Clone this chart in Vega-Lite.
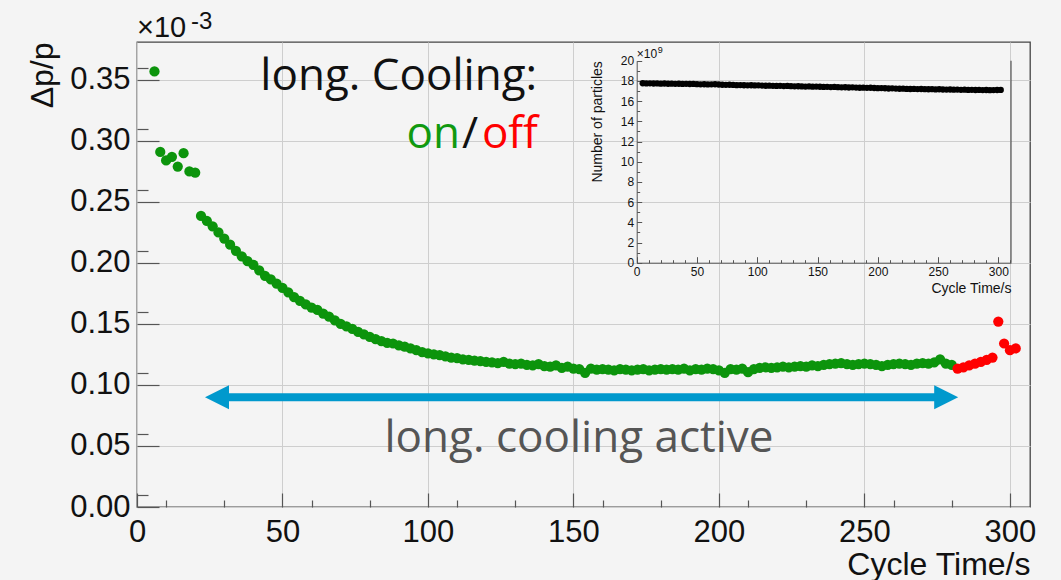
{
  "$schema": "https://vega.github.io/schema/vega-lite/v6.json",
  "width": 893,
  "height": 465,
  "autosize": {"type": "none"},
  "padding": {"left": 137, "top": 42, "right": 31, "bottom": 73},
  "background": "#f4f4f4",
  "config": {
    "view": {"stroke": "#444", "strokeWidth": 1.3, "fill": "#f4f4f4"},
    "axis": {"labelFont": "Liberation Sans", "titleFont": "Liberation Sans", "labelColor": "#111", "titleColor": "#111", "titleFontWeight": "normal"}
  },
  "datasets": {
    "one": [{}],
    "main": [
      {"t":6,"dp":0.357,"cooling":"on"},{"t":8,"dp":0.291,"cooling":"on"},{"t":10,"dp":0.284,"cooling":"on"},{"t":12,"dp":0.287,"cooling":"on"},{"t":14,"dp":0.279,"cooling":"on"},{"t":16,"dp":0.290,"cooling":"on"},{"t":18,"dp":0.2750,"cooling":"on"},{"t":20,"dp":0.2740,"cooling":"on"},
      {"t":22,"dp":0.2385,"cooling":"on"},{"t":24,"dp":0.2345,"cooling":"on"},{"t":26,"dp":0.2300,"cooling":"on"},{"t":28,"dp":0.2250,"cooling":"on"},{"t":30,"dp":0.2200,"cooling":"on"},{"t":32,"dp":0.2150,"cooling":"on"},{"t":34,"dp":0.2100,"cooling":"on"},{"t":36,"dp":0.2055,"cooling":"on"},{"t":38,"dp":0.2015,"cooling":"on"},{"t":40,"dp":0.1985,"cooling":"on"},
      {"t":42,"dp":0.1940,"cooling":"on"},{"t":44,"dp":0.1895,"cooling":"on"},{"t":46,"dp":0.1865,"cooling":"on"},{"t":48,"dp":0.1830,"cooling":"on"},{"t":50,"dp":0.1795,"cooling":"on"},{"t":52,"dp":0.1760,"cooling":"on"},{"t":54,"dp":0.1720,"cooling":"on"},{"t":56,"dp":0.1690,"cooling":"on"},{"t":58,"dp":0.1660,"cooling":"on"},{"t":60,"dp":0.1635,"cooling":"on"},
      {"t":62,"dp":0.1615,"cooling":"on"},{"t":64,"dp":0.1585,"cooling":"on"},{"t":66,"dp":0.1560,"cooling":"on"},{"t":68,"dp":0.1530,"cooling":"on"},{"t":70,"dp":0.1500,"cooling":"on"},{"t":72,"dp":0.1480,"cooling":"on"},{"t":74,"dp":0.1460,"cooling":"on"},{"t":76,"dp":0.1435,"cooling":"on"},{"t":78,"dp":0.1415,"cooling":"on"},{"t":80,"dp":0.1395,"cooling":"on"},
      {"t":82,"dp":0.1375,"cooling":"on"},{"t":84,"dp":0.1360,"cooling":"on"},{"t":86,"dp":0.1345,"cooling":"on"},{"t":88,"dp":0.1340,"cooling":"on"},{"t":90,"dp":0.1325,"cooling":"on"},{"t":92,"dp":0.1315,"cooling":"on"},{"t":94,"dp":0.1300,"cooling":"on"},{"t":96,"dp":0.1285,"cooling":"on"},{"t":98,"dp":0.1270,"cooling":"on"},{"t":100,"dp":0.1260,"cooling":"on"},
      {"t":102,"dp":0.1250,"cooling":"on"},{"t":104,"dp":0.1245,"cooling":"on"},{"t":106,"dp":0.1235,"cooling":"on"},{"t":108,"dp":0.1225,"cooling":"on"},{"t":110,"dp":0.1220,"cooling":"on"},{"t":112,"dp":0.1210,"cooling":"on"},{"t":114,"dp":0.1205,"cooling":"on"},{"t":116,"dp":0.1200,"cooling":"on"},{"t":118,"dp":0.1195,"cooling":"on"},{"t":120,"dp":0.1190,"cooling":"on"},
      {"t":122,"dp":0.1185,"cooling":"on"},{"t":124,"dp":0.1180,"cooling":"on"},{"t":126,"dp":0.1190,"cooling":"on"},{"t":128,"dp":0.1175,"cooling":"on"},{"t":130,"dp":0.1170,"cooling":"on"},{"t":132,"dp":0.1175,"cooling":"on"},{"t":134,"dp":0.1165,"cooling":"on"},{"t":136,"dp":0.1160,"cooling":"on"},{"t":138,"dp":0.1170,"cooling":"on"},{"t":140,"dp":0.1155,"cooling":"on"},
      {"t":142,"dp":0.1150,"cooling":"on"},{"t":144,"dp":0.1160,"cooling":"on"},{"t":146,"dp":0.1140,"cooling":"on"},{"t":148,"dp":0.1150,"cooling":"on"},{"t":150,"dp":0.1135,"cooling":"on"},{"t":152,"dp":0.1130,"cooling":"on"},{"t":154,"dp":0.1100,"cooling":"on"},{"t":156,"dp":0.1135,"cooling":"on"},{"t":158,"dp":0.1125,"cooling":"on"},{"t":160,"dp":0.1130,"cooling":"on"},
      {"t":162,"dp":0.1125,"cooling":"on"},{"t":164,"dp":0.1120,"cooling":"on"},{"t":166,"dp":0.1130,"cooling":"on"},{"t":168,"dp":0.1125,"cooling":"on"},{"t":170,"dp":0.1120,"cooling":"on"},{"t":172,"dp":0.1125,"cooling":"on"},{"t":174,"dp":0.1130,"cooling":"on"},{"t":176,"dp":0.1120,"cooling":"on"},{"t":178,"dp":0.1125,"cooling":"on"},{"t":180,"dp":0.1130,"cooling":"on"},
      {"t":182,"dp":0.1125,"cooling":"on"},{"t":184,"dp":0.1130,"cooling":"on"},{"t":186,"dp":0.1125,"cooling":"on"},{"t":188,"dp":0.1135,"cooling":"on"},{"t":190,"dp":0.1120,"cooling":"on"},{"t":192,"dp":0.1130,"cooling":"on"},{"t":194,"dp":0.1125,"cooling":"on"},{"t":196,"dp":0.1135,"cooling":"on"},{"t":198,"dp":0.1130,"cooling":"on"},{"t":200,"dp":0.1120,"cooling":"on"},
      {"t":202,"dp":0.1100,"cooling":"on"},{"t":204,"dp":0.1130,"cooling":"on"},{"t":206,"dp":0.1125,"cooling":"on"},{"t":208,"dp":0.1135,"cooling":"on"},{"t":210,"dp":0.1105,"cooling":"on"},{"t":212,"dp":0.1130,"cooling":"on"},{"t":214,"dp":0.1140,"cooling":"on"},{"t":216,"dp":0.1145,"cooling":"on"},{"t":218,"dp":0.1140,"cooling":"on"},{"t":220,"dp":0.1145,"cooling":"on"},
      {"t":222,"dp":0.1150,"cooling":"on"},{"t":224,"dp":0.1145,"cooling":"on"},{"t":226,"dp":0.1150,"cooling":"on"},{"t":228,"dp":0.1155,"cooling":"on"},{"t":230,"dp":0.1150,"cooling":"on"},{"t":232,"dp":0.1160,"cooling":"on"},{"t":234,"dp":0.1155,"cooling":"on"},{"t":236,"dp":0.1165,"cooling":"on"},{"t":238,"dp":0.1170,"cooling":"on"},{"t":240,"dp":0.1175,"cooling":"on"},
      {"t":242,"dp":0.1180,"cooling":"on"},{"t":244,"dp":0.1170,"cooling":"on"},{"t":246,"dp":0.1165,"cooling":"on"},{"t":248,"dp":0.1170,"cooling":"on"},{"t":250,"dp":0.1175,"cooling":"on"},{"t":252,"dp":0.1170,"cooling":"on"},{"t":254,"dp":0.1165,"cooling":"on"},{"t":256,"dp":0.1155,"cooling":"on"},{"t":258,"dp":0.1165,"cooling":"on"},{"t":260,"dp":0.1170,"cooling":"on"},
      {"t":262,"dp":0.1175,"cooling":"on"},{"t":264,"dp":0.1170,"cooling":"on"},{"t":266,"dp":0.1165,"cooling":"on"},{"t":268,"dp":0.1175,"cooling":"on"},{"t":270,"dp":0.1180,"cooling":"on"},{"t":272,"dp":0.1175,"cooling":"on"},{"t":274,"dp":0.1185,"cooling":"on"},{"t":276,"dp":0.1210,"cooling":"on"},{"t":278,"dp":0.1175,"cooling":"on"},{"t":280,"dp":0.1165,"cooling":"on"},
      {"t":282,"dp":0.1135,"cooling":"off"},{"t":284,"dp":0.1145,"cooling":"off"},{"t":286,"dp":0.1160,"cooling":"off"},{"t":288,"dp":0.1175,"cooling":"off"},{"t":290,"dp":0.1190,"cooling":"off"},{"t":292,"dp":0.1205,"cooling":"off"},{"t":294,"dp":0.1225,"cooling":"off"},{"t":296,"dp":0.1520,"cooling":"off"},{"t":298,"dp":0.1340,"cooling":"off"},{"t":300,"dp":0.1285,"cooling":"off"},{"t":302,"dp":0.1300,"cooling":"off"}
    ],
    "inset": [
      {"t":5,"n":17.77},{"t":8,"n":17.75},{"t":11,"n":17.76},{"t":14,"n":17.74},{"t":17,"n":17.75},{"t":20,"n":17.73},{"t":23,"n":17.74},{"t":26,"n":17.72},{"t":29,"n":17.73},{"t":32,"n":17.71},
      {"t":35,"n":17.72},{"t":38,"n":17.70},{"t":41,"n":17.71},{"t":44,"n":17.69},{"t":47,"n":17.70},{"t":50,"n":17.68},{"t":53,"n":17.66},{"t":56,"n":17.67},{"t":59,"n":17.65},{"t":62,"n":17.66},
      {"t":65,"n":17.67},{"t":68,"n":17.64},{"t":71,"n":17.62},{"t":74,"n":17.61},{"t":77,"n":17.62},{"t":80,"n":17.60},{"t":83,"n":17.58},{"t":86,"n":17.59},{"t":89,"n":17.57},{"t":92,"n":17.56},
      {"t":95,"n":17.57},{"t":98,"n":17.55},{"t":101,"n":17.56},{"t":104,"n":17.54},{"t":107,"n":17.52},{"t":110,"n":17.53},{"t":113,"n":17.51},{"t":116,"n":17.50},{"t":119,"n":17.51},{"t":122,"n":17.49},
      {"t":125,"n":17.50},{"t":128,"n":17.48},{"t":131,"n":17.46},{"t":134,"n":17.47},{"t":137,"n":17.45},{"t":140,"n":17.44},{"t":143,"n":17.45},{"t":146,"n":17.43},{"t":149,"n":17.44},{"t":152,"n":17.42},
      {"t":155,"n":17.40},{"t":158,"n":17.41},{"t":161,"n":17.39},{"t":164,"n":17.40},{"t":167,"n":17.38},{"t":170,"n":17.36},{"t":173,"n":17.37},{"t":176,"n":17.35},{"t":179,"n":17.36},{"t":182,"n":17.34},
      {"t":185,"n":17.32},{"t":188,"n":17.33},{"t":191,"n":17.31},{"t":194,"n":17.32},{"t":197,"n":17.30},{"t":200,"n":17.28},{"t":203,"n":17.29},{"t":206,"n":17.27},{"t":209,"n":17.25},{"t":212,"n":17.26},
      {"t":215,"n":17.24},{"t":218,"n":17.22},{"t":221,"n":17.23},{"t":224,"n":17.21},{"t":227,"n":17.20},{"t":230,"n":17.21},{"t":233,"n":17.19},{"t":236,"n":17.20},{"t":239,"n":17.18},{"t":242,"n":17.17},
      {"t":245,"n":17.18},{"t":248,"n":17.16},{"t":251,"n":17.17},{"t":254,"n":17.15},{"t":257,"n":17.14},{"t":260,"n":17.15},{"t":263,"n":17.13},{"t":266,"n":17.14},{"t":269,"n":17.12},{"t":272,"n":17.13},
      {"t":275,"n":17.11},{"t":278,"n":17.12},{"t":281,"n":17.10},{"t":284,"n":17.11},{"t":287,"n":17.09},{"t":290,"n":17.10},{"t":293,"n":17.08},{"t":296,"n":17.09},{"t":299,"n":17.10},{"t":302,"n":17.11}
    ]
  },
  "layer": [
    {
      "layer": [
        {
          "data": {"name": "main"},
          "mark": {"type": "circle", "size": 105, "opacity": 1},
          "encoding": {
            "x": {"field": "t", "type": "quantitative", "scale": {"domain": [0, 306.9], "nice": false, "zero": false},
              "axis": {"orient": "bottom", "values": [0, 50, 100, 150, 200, 250, 300], "grid": true, "gridColor": "#cecece", "gridWidth": 1, "domain": false, "ticks": true, "tickSize": -14, "tickColor": "#555", "tickWidth": 1.2, "labelFontSize": 31, "labelPadding": 24, "labelFlush": false, "labelOverlap": false, "title": "Cycle Time/s", "titleFontSize": 32, "titleAnchor": "end", "titlePadding": 2}},
            "y": {"field": "dp", "type": "quantitative", "scale": {"domain": [0, 0.3811], "nice": false, "zero": false},
              "axis": {"orient": "left", "values": [0, 0.05, 0.1, 0.15, 0.2, 0.25, 0.3, 0.35], "format": ".2f", "grid": true, "gridColor": "#cecece", "gridWidth": 1, "domain": false, "ticks": true, "tickSize": -22, "tickColor": "#555", "tickWidth": 1.2, "labelFontSize": 31, "labelPadding": 29, "labelFlush": false, "labelOverlap": false, "title": "Δp/p", "titleFontSize": 32, "titleAnchor": "end", "titlePadding": 10}},
            "color": {"field": "cooling", "type": "nominal", "scale": {"domain": ["on", "off"], "range": ["#0c940c", "#ff0000"]}, "legend": null}
          }
        },
        {
          "data": {"name": "one"},
          "mark": {"type": "text", "text": "long. Cooling:", "font": "Open Sans", "fontSize": 44, "color": "#111", "align": "right", "baseline": "alphabetic"},
          "encoding": {"x": {"datum": 137.5, "type": "quantitative"}, "y": {"datum": 0.3418, "type": "quantitative"}}
        },
        {
          "data": {"name": "one"},
          "mark": {"type": "text", "text": "on", "font": "Open Sans", "fontSize": 44, "color": "#109910", "align": "right", "baseline": "alphabetic"},
          "encoding": {"x": {"datum": 111.0, "type": "quantitative"}, "y": {"datum": 0.2943, "type": "quantitative"}}
        },
        {
          "data": {"name": "one"},
          "mark": {"type": "text", "text": "/", "font": "Open Sans", "fontSize": 44, "color": "#111", "align": "right", "baseline": "alphabetic"},
          "encoding": {"x": {"datum": 117.2, "type": "quantitative"}, "y": {"datum": 0.2943, "type": "quantitative"}}
        },
        {
          "data": {"name": "one"},
          "mark": {"type": "text", "text": "off", "font": "Open Sans", "fontSize": 44, "color": "#ff0000", "align": "right", "baseline": "alphabetic"},
          "encoding": {"x": {"datum": 137.8, "type": "quantitative"}, "y": {"datum": 0.2943, "type": "quantitative"}}
        },
        {
          "data": {"name": "one"},
          "mark": {"type": "text", "text": "long. cooling active", "font": "Open Sans", "fontSize": 44, "color": "#555", "align": "center", "baseline": "alphabetic"},
          "encoding": {"x": {"datum": 151.9, "type": "quantitative"}, "y": {"datum": 0.0453, "type": "quantitative"}}
        },
        {
          "data": {"name": "one"},
          "mark": {"type": "text", "text": "×10", "font": "Liberation Sans", "fontSize": 29, "color": "#111", "align": "left", "baseline": "alphabetic"},
          "encoding": {"x": {"datum": 0, "type": "quantitative"}, "y": {"datum": 0.3852, "type": "quantitative"}}
        },
        {
          "data": {"name": "one"},
          "mark": {"type": "text", "text": "-3", "font": "Liberation Sans", "fontSize": 24, "color": "#111", "align": "left", "baseline": "alphabetic"},
          "encoding": {"x": {"datum": 18.6, "type": "quantitative"}, "y": {"datum": 0.392, "type": "quantitative"}}
        }
      ]
    },
    {
      "layer": [
        {
          "data": {"name": "inset"},
          "mark": {"type": "circle", "size": 40, "color": "#000", "opacity": 1},
          "encoding": {
            "x": {"field": "t", "type": "quantitative", "scale": {"domain": [0, 310.5], "range": [499.7, 874], "nice": false, "zero": false},
              "axis": {"orient": "bottom", "offset": -244.3, "values": [0, 50, 100, 150, 200, 250, 300], "grid": false, "domain": true, "domainColor": "#555", "domainWidth": 1, "ticks": true, "tickSize": -6, "tickColor": "#555", "labelFontSize": 12, "labelPadding": 10, "labelFlush": false, "labelOverlap": false, "title": "Cycle Time/s", "titleFontSize": 14, "titleAnchor": "end", "titlePadding": 4}},
            "y": {"field": "n", "type": "quantitative", "scale": {"domain": [0, 20], "range": [220.7, 18.7], "nice": false, "zero": false},
              "axis": {"orient": "left", "offset": -499.7, "values": [0, 2, 4, 6, 8, 10, 12, 14, 16, 18, 20], "grid": false, "domain": true, "domainColor": "#555", "domainWidth": 1, "ticks": true, "tickSize": -5, "tickColor": "#555", "labelFontSize": 12, "labelPadding": 8, "labelFlush": false, "labelOverlap": false, "title": "Number of particles", "titleFontSize": 14, "titleAnchor": "end", "titlePadding": 16}}
          }
        },
        {
          "data": {"name": "one"},
          "mark": {"type": "text", "text": "×10", "font": "Liberation Sans", "fontSize": 12, "color": "#111", "align": "left", "baseline": "alphabetic", "dy": -3},
          "encoding": {"x": {"datum": 0, "type": "quantitative"}, "y": {"datum": 20, "type": "quantitative"}}
        },
        {
          "data": {"name": "one"},
          "mark": {"type": "text", "text": "9", "font": "Liberation Sans", "fontSize": 9, "color": "#111", "align": "left", "baseline": "alphabetic", "dx": 21, "dy": -8},
          "encoding": {"x": {"datum": 0, "type": "quantitative"}, "y": {"datum": 20, "type": "quantitative"}}
        }
      ]
    },
    {
      "layer": [
        {
          "data": {"name": "one"},
          "mark": {"type": "rule", "color": "#0099cd", "strokeWidth": 8},
          "encoding": {
            "x": {"datum": 27.5, "type": "quantitative", "scale": {"domain": [0, 306.9], "nice": false, "zero": false},
              "axis": {"orient": "bottom", "values": [10, 20, 30, 40, 60, 70, 80, 90, 110, 120, 130, 140, 160, 170, 180, 190, 210, 220, 230, 240, 260, 270, 280, 290], "grid": false, "domain": false, "labels": false, "ticks": true, "tickSize": -7, "tickColor": "#555", "tickWidth": 1.2, "title": null}},
            "x2": {"datum": 278.1},
            "y": {"datum": 0.0899, "type": "quantitative", "scale": {"domain": [0, 0.3811], "nice": false, "zero": false},
              "axis": {"orient": "left", "values": [0.01, 0.02, 0.03, 0.04, 0.06, 0.07, 0.08, 0.09, 0.11, 0.12, 0.13, 0.14, 0.16, 0.17, 0.18, 0.19, 0.21, 0.22, 0.23, 0.24, 0.26, 0.27, 0.28, 0.29, 0.31, 0.32, 0.33, 0.34, 0.36, 0.37, 0.38], "grid": false, "domain": false, "labels": false, "ticks": true, "tickSize": -11, "tickColor": "#555", "tickWidth": 1.2, "title": null}}
          }
        },
        {
          "data": {"name": "one"},
          "mark": {"type": "point", "shape": "M -1 0 L 1 -1 L 1 1 Z", "size": 576, "filled": true, "color": "#0099cd", "opacity": 1},
          "encoding": {"x": {"datum": 27.5, "type": "quantitative"}, "y": {"datum": 0.0899, "type": "quantitative"}}
        },
        {
          "data": {"name": "one"},
          "mark": {"type": "point", "shape": "M 1 0 L -1 -1 L -1 1 Z", "size": 576, "filled": true, "color": "#0099cd", "opacity": 1},
          "encoding": {"x": {"datum": 278.1, "type": "quantitative"}, "y": {"datum": 0.0899, "type": "quantitative"}}
        }
      ]
    },
    {
      "layer": [
        {
          "data": {"name": "one"},
          "mark": {"type": "rule", "color": "#555", "strokeWidth": 1.2},
          "encoding": {
            "x": {"datum": 310.5, "type": "quantitative", "scale": {"domain": [0, 310.5], "range": [499.7, 874], "nice": false, "zero": false},
              "axis": {"orient": "bottom", "offset": -244.3, "values": [10, 20, 30, 40, 60, 70, 80, 90, 110, 120, 130, 140, 160, 170, 180, 190, 210, 220, 230, 240, 260, 270, 280, 290, 310], "grid": false, "domain": false, "labels": false, "ticks": true, "tickSize": -3, "tickColor": "#555", "title": null}},
            "y": {"datum": 0, "type": "quantitative", "scale": {"domain": [0, 20], "range": [220.7, 18.7], "nice": false, "zero": false},
              "axis": {"orient": "left", "offset": -499.7, "values": [1, 3, 5, 7, 9, 11, 13, 15, 17, 19], "grid": false, "domain": false, "labels": false, "ticks": true, "tickSize": -3, "tickColor": "#555", "title": null}},
            "y2": {"datum": 20}
          }
        }
      ]
    }
  ],
  "resolve": {"scale": {"x": "independent", "y": "independent"}, "axis": {"x": "independent", "y": "independent"}}
}
